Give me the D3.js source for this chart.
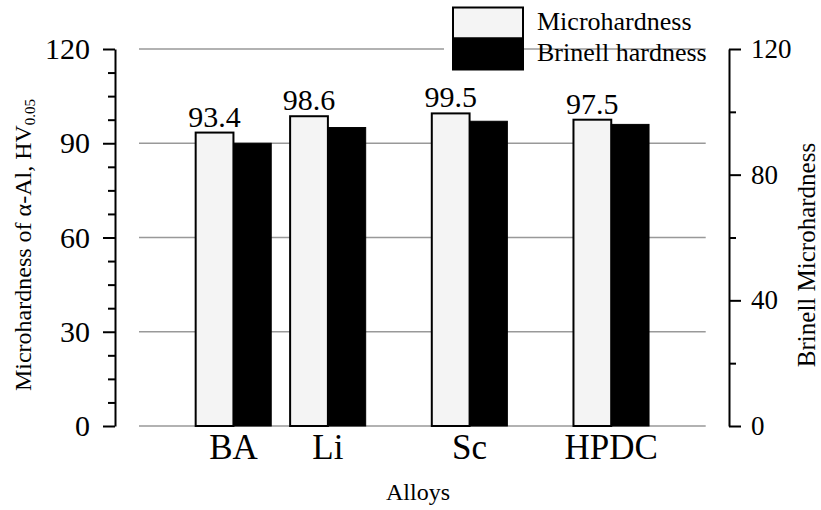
<!DOCTYPE html>
<html><head><meta charset="utf-8">
<script src="https://cdn.jsdelivr.net/npm/d3@7"></script>
<style>
html,body{margin:0;padding:0;background:#fff;}
svg text{font-family:"Liberation Serif","Times New Roman",serif !important;fill:#000;}
</style></head>
<body><svg id="c" width="821" height="510"></svg>
<script>
const categories = ["BA", "Li", "Sc", "HPDC"];
const categoryPositions = [1, 2, 3.5, 5];
const microhardness = [93.4, 98.6, 99.5, 97.5];
const brinell = [90, 95, 97, 96];
const leftTicks = [0, 30, 60, 90, 120];
const rightTicks = [0, 40, 80, 120];

const svg = d3.select("#c");
const x = d3.scaleLinear().domain([0, 6]).range([139, 705.7]);
const yL = d3.scaleLinear().domain([0, 120]).range([426, 49]);
const yR = d3.scaleLinear().domain([0, 120]).range([426, 49]);
const unit = x(1) - x(0);
const bw = 0.4 * unit;

// gridlines
svg.append("g").selectAll("line").data(leftTicks).join("line")
  .attr("x1", x(0)).attr("x2", x(6))
  .attr("y1", d => yL(d)).attr("y2", d => yL(d))
  .attr("stroke", "#999").attr("stroke-width", 1.5);

// bars
const g = svg.append("g");
g.selectAll(".w").data(categories).join("rect").attr("class","w")
  .attr("x", (d,i) => x(categoryPositions[i]) - bw)
  .attr("y", (d,i) => yL(microhardness[i]))
  .attr("width", bw)
  .attr("height", (d,i) => yL(0) - yL(microhardness[i]))
  .attr("fill", "#f4f4f4").attr("stroke", "#000").attr("stroke-width", 2);
g.selectAll(".b").data(categories).join("rect").attr("class","b")
  .attr("x", (d,i) => x(categoryPositions[i]))
  .attr("y", (d,i) => yR(brinell[i]))
  .attr("width", bw)
  .attr("height", (d,i) => yR(0) - yR(brinell[i]))
  .attr("fill", "#000").attr("stroke", "#000").attr("stroke-width", 1);

// value labels
g.selectAll(".v").data(categories).join("text").attr("class","v")
  .attr("x", (d,i) => x(categoryPositions[i]) - bw/2)
  .attr("y", (d,i) => yL(microhardness[i]) - 6)
  .attr("text-anchor", "middle").attr("font-size", 30)
  .text((d,i) => microhardness[i].toFixed(1));

// category labels
g.selectAll(".cat").data(categories).join("text").attr("class","cat")
  .attr("x", (d,i) => x(categoryPositions[i]))
  .attr("y", 459)
  .attr("text-anchor", "middle").attr("font-size", 35)
  .text(d => d);

// left axis
const la = svg.append("g").attr("transform", "translate(115,0)")
  .call(d3.axisLeft(yL).tickValues(leftTicks).tickSize(12).tickSizeOuter(0));
la.select(".domain").attr("stroke-width", 2);
la.selectAll(".tick line").attr("stroke-width", 2);
la.selectAll(".tick text").attr("font-size", 30).attr("x", -25);
const lm = svg.append("g").attr("transform", "translate(115,0)")
  .call(d3.axisLeft(yL).tickValues(d3.range(0, 121, 7.5).filter(v => v % 30 !== 0)).tickSize(7).tickFormat(""));
lm.select(".domain").remove();
lm.selectAll(".tick line").attr("stroke-width", 2);

// right axis
const ra = svg.append("g").attr("transform", "translate(729,0)")
  .call(d3.axisRight(yR).tickValues(rightTicks).tickSize(12).tickSizeOuter(0));
ra.select(".domain").attr("stroke-width", 2);
ra.selectAll(".tick line").attr("stroke-width", 2);
ra.selectAll(".tick text").attr("font-size", 27).attr("x", 22);
const rm = svg.append("g").attr("transform", "translate(729,0)")
  .call(d3.axisRight(yR).tickValues([20, 60, 100]).tickSize(7).tickFormat(""));
rm.select(".domain").remove();
rm.selectAll(".tick line").attr("stroke-width", 2);

// axis titles
svg.append("text").attr("transform", "translate(418,500)")
  .attr("text-anchor", "middle").attr("font-size", 24).text("Alloys");
const lt = svg.append("text").attr("transform", "translate(31,245) rotate(-90)")
  .attr("text-anchor", "middle").attr("font-size", 24);
lt.append("tspan").text("Microhardness of α-Al, HV");
lt.append("tspan").attr("font-size", 15).attr("dy", 4).text("0.05");
svg.append("text").attr("transform", "translate(815,255) rotate(-90)")
  .attr("text-anchor", "middle").attr("font-size", 25).text("Brinell Microhardness");

// legend
const legend = [{name: "Microhardness", fill: "#f4f4f4"}, {name: "Brinell hardness", fill: "#000"}];
svg.append("rect").attr("x", 444).attr("y", 44).attr("width", 9).attr("height", 10).attr("fill", "#fff");
const lg = svg.append("g").selectAll("g").data(legend).join("g")
  .attr("transform", (d,i) => `translate(453,${7.5 + i*31})`);
lg.append("rect").attr("width", 70).attr("height", 31)
  .attr("fill", d => d.fill).attr("stroke", "#000").attr("stroke-width", 2);
lg.append("text").attr("x", 84).attr("y", 22).attr("font-size", 26).text(d => d.name);
</script></body></html>
